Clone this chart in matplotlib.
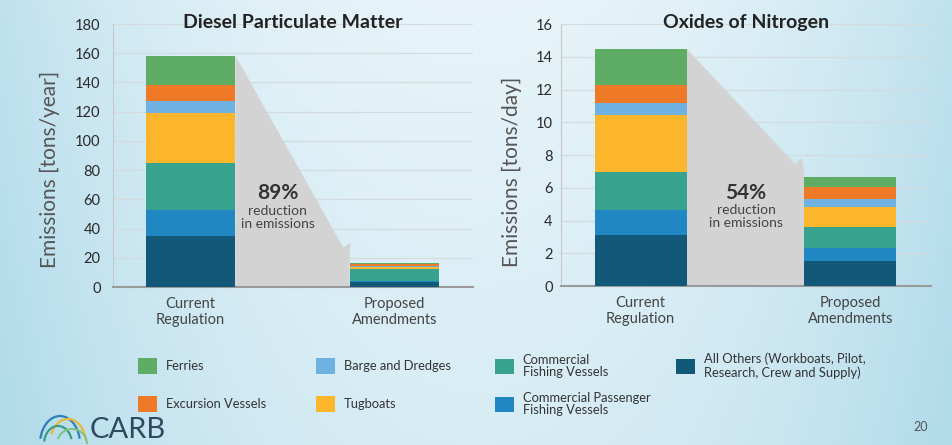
import numpy as np
import matplotlib
matplotlib.use("Agg")
import matplotlib.pyplot as plt
from matplotlib.patches import Polygon, Arc
from matplotlib.transforms import ScaledTranslation

# ---- data ----
scenarios = ["Current\nRegulation", "Proposed\nAmendments"]
categories = ["All Others (Workboats, Pilot,\nResearch, Crew and Supply)",
              "Commercial Passenger\nFishing Vessels",
              "Commercial\nFishing Vessels",
              "Tugboats",
              "Barge and Dredges",
              "Excursion Vessels",
              "Ferries"]
pm_all_others = [35.2, 3.5]
pm_cpfv = [17.7, 0.9]
pm_comm_fish = [32.3, 8.0]
pm_tugboats = [33.8, 1.2]
pm_barge = [8.5, 0.7]
pm_excursion = [11.0, 1.2]
pm_ferries = [19.8, 1.2]

nox_all_others = [3.12, 1.51]
nox_cpfv = [1.50, 0.81]
nox_comm_fish = [2.32, 1.28]
nox_tugboats = [3.51, 1.23]
nox_barge = [0.71, 0.49]
nox_excursion = [1.12, 0.71]
nox_ferries = [2.20, 0.61]

pm_reduction = "89%"
nox_reduction = "54%"
pm_ticks = [0, 20, 40, 60, 80, 100, 120, 140, 160, 180]
nox_ticks = [0, 2, 4, 6, 8, 10, 12, 14, 16]

colors = ["#115879", "#2087c3", "#37a38f", "#fbb62b", "#6fb1e0", "#ee7a27", "#5fac64"]

FONT = "Lato"
plt.rcParams["font.family"] = [FONT, "DejaVu Sans"]

fig = plt.figure(figsize=(9.53, 4.45), dpi=100)

# background gradient
bg = fig.add_axes([0, 0, 1, 1], zorder=-10)
xx = np.linspace(0, 1, 400)
yy = np.linspace(0, 1, 200)
X, Y = np.meshgrid(xx, yy)
edge = np.clip(np.abs(X - 0.5) * 2, 0, 1) ** 2.2
t = 0.2 + 0.6 * edge + 0.25 * Y
t = np.clip(t, 0, 1)
c_light = np.array([0.96, 0.98, 0.99])
c_blue = np.array([0.70, 0.86, 0.92])
img = c_light[None, None, :] * (1 - t[..., None]) + c_blue[None, None, :] * t[..., None]
bg.imshow(img, aspect="auto", extent=[0, 1, 0, 1], origin="upper")
bg.axis("off")

def draw(ax, series, ticks, ylabel, title, red, lab_xy, pad, red_x):
    x = np.arange(len(scenarios))
    w = 0.44
    bottom = np.zeros(len(scenarios))
    handles = []
    for vals, col, lab in zip(series, colors, categories):
        b = ax.bar(x, vals, w, bottom=bottom, color=col, label=lab, zorder=3, linewidth=0)
        handles.append(b)
        bottom = bottom + np.array(vals)
    totals = bottom
    ax.set_ylim(ticks[0], ticks[-1])
    ax.set_xlim(-0.38, 1.385)
    ax.set_yticks(ticks)
    ax.set_xticks(x)
    ax.set_xticklabels(scenarios, fontsize=12, color="#444444", linespacing=1.2)
    off = ScaledTranslation(-11 / 100, 0, fig.dpi_scale_trans)
    for lbl in ax.get_xticklabels():
        lbl.set_transform(lbl.get_transform() + off)
    ax.tick_params(axis="both", length=0, labelsize=10.5, colors="#2a2a2a")
    ax.tick_params(axis="y", pad=pad)
    ax.tick_params(axis="x", pad=7, colors="#444444")
    ax.set_facecolor("none")
    ax.grid(axis="y", color="#d3dbdf", linewidth=0.9, zorder=0)
    for s in ["top", "right"]:
        ax.spines[s].set_visible(False)
    ax.spines["left"].set_color("#c8c8c8")
    ax.spines["bottom"].set_color("#9a9a9a")
    ax.spines["bottom"].set_linewidth(1.5)
    ax.text(lab_xy[0], lab_xy[1], ylabel, transform=ax.transAxes, rotation=90,
            ha="center", va="center", fontsize=15, color="#555555")
    ax.text(0.5, 1.005, title, transform=ax.transAxes, ha="center", va="center",
            fontsize=14, fontweight="bold", color="#222222")

    # gray reduction arrow computed from bar totals
    fig.canvas.draw()
    tr = ax.transData
    A = tr.transform((x[0] + w / 2, totals[0]))
    T = tr.transform((x[1] - w / 2, totals[1]))
    T = T + np.array([0, 4])
    d = (T - A) / np.linalg.norm(T - A)
    B = T - 13 * d
    perp = np.array([-d[1], d[0]])
    if perp[0] < 0:
        perp = -perp
    W = B + 9 * perp
    W[0] = min(W[0], T[0] + 1)
    base_r = tr.transform((x[1] - w / 2, 0))
    base_l = tr.transform((x[0] + w / 2, 0))
    pts = np.array([A, B, W, T, base_r, base_l])
    pts_d = tr.inverted().transform(pts)
    poly = Polygon(pts_d, closed=True, facecolor="#d3d3d3", edgecolor="none", zorder=2)
    ax.add_patch(poly)
    ax.text(red_x, 0.357, red, transform=ax.transAxes, ha="center", va="center",
            fontsize=15, fontweight="bold", color="#333333", zorder=4)
    ax.text(red_x, 0.266, "reduction\nin emissions", transform=ax.transAxes, ha="center",
            va="center", fontsize=10, color="#444444", linespacing=1.1, zorder=4)
    return handles

ax1 = fig.add_axes([0.1186, 0.355, 0.3777, 0.591])
ax2 = fig.add_axes([0.5887, 0.357, 0.3882, 0.589])

h = draw(ax1, [pm_all_others, pm_cpfv, pm_comm_fish, pm_tugboats, pm_barge, pm_excursion, pm_ferries],
         pm_ticks, "Emissions [tons/year]", "Diesel Particulate Matter", pm_reduction,
         (-0.175, 0.449), 9, 0.458)
draw(ax2, [nox_all_others, nox_cpfv, nox_comm_fish, nox_tugboats, nox_barge, nox_excursion, nox_ferries],
     nox_ticks, "Emissions [tons/day]", "Oxides of Nitrogen", nox_reduction,
     (-0.132, 0.435), 6, 0.5)

# legend: one entry per slot on a fixed grid (column x, row y in figure pixels)
slots = {6: (138, 366), 5: (138, 404), 4: (316, 366), 3: (316, 404),
         2: (495, 366), 1: (495, 404), 0: (676, 366)}
W_px, H_px = 953, 445
for i, (px, py) in slots.items():
    lg = fig.legend([h[i]], [categories[i]], loc="center left",
                    bbox_to_anchor=(px / W_px, 1 - py / H_px),
                    frameon=False, fontsize=9.3, handlelength=1.45, handleheight=1.45,
                    handletextpad=0.7, borderpad=0, borderaxespad=0, labelspacing=0)
    for txt in lg.get_texts():
        txt.set_color("#333333")
        txt.set_linespacing(1.1)

# CARB logo
lax = fig.add_axes([38 / W_px, 1 - 444 / H_px, 55 / W_px, 34 / H_px])
lax.set_xlim(0, 55)
lax.set_ylim(0, 34)
lax.axis("off")
lax.add_patch(Arc((22, 0), 40, 56, theta1=15, theta2=165, color="#2f7fb5", lw=1.6))
lax.add_patch(Arc((30, 0), 36, 50, theta1=10, theta2=150, color="#e8b83a", lw=1.6))
lax.add_patch(Arc((20, 0), 28, 36, theta1=20, theta2=170, color="#3a9e86", lw=1.6))
lax.add_patch(Arc((34, 0), 30, 30, theta1=0, theta2=160, color="#7cc47f", lw=1.4))
fig.text(90 / W_px, 1 - 443 / H_px, "CARB", fontsize=21, color="#2d4a5f", ha="left", va="bottom")
fig.text(0.966, 0.04, "20", fontsize=9, color="#555555", ha="center", va="center")

fig.savefig("out.png", dpi=100)
